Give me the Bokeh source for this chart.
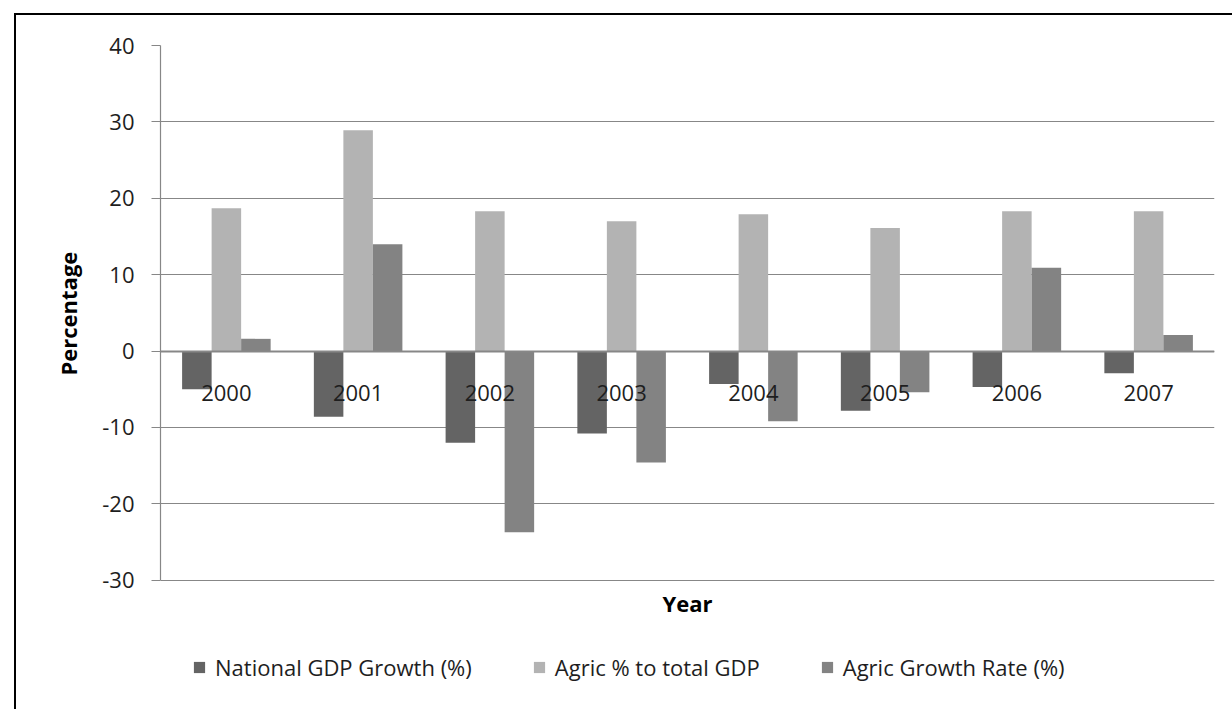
from bokeh.plotting import figure
from bokeh.models import (ColumnDataSource, FactorRange, Range1d, Legend, LegendItem,
                          Label, Title, FixedTicker, PrintfTickFormatter)
from bokeh.transform import dodge
from bokeh.embed import file_html
from bokeh.resources import INLINE

# Nigerian economy, 2000-2007 (percent)
years = ["2000", "2001", "2002", "2003", "2004", "2005", "2006", "2007"]
national_gdp_growth = [-5.0, -8.6, -12.0, -10.8, -4.3, -7.8, -4.7, -2.9]
agric_share_of_gdp = [18.7, 28.9, 18.3, 17.0, 17.9, 16.1, 18.3, 18.3]
agric_growth_rate = [1.6, 14.0, -23.7, -14.6, -9.2, -5.4, 10.9, 2.1]

series_names = ["National GDP Growth (%)", "Agric % to total GDP", "Agric Growth Rate (%)"]
y_ticks = [-30, -20, -10, 0, 10, 20, 30, 40]

FONT = "Open Sans"
GRID = "#878787"

src = ColumnDataSource(dict(year=years, gdp=national_gdp_growth,
                            share=agric_share_of_gdp, agr=agric_growth_rate))

# the frame runs on below the -30 gridline so that the axis title and the
# legend row can sit inside it; the value axis itself is bounded to -30..40
p = figure(x_range=FactorRange(*years), y_range=Range1d(-46, 40),
           frame_width=1054, frame_height=657,
           min_border_left=144, min_border_right=18, min_border_top=30, min_border_bottom=7,
           output_backend="svg", toolbar_location=None,
           background_fill_color="white", border_fill_color="white")
p.outline_line_color = None
p.styles = {"margin-left": "14px", "margin-top": "13px",
            "border-left": "2px solid #000", "border-top": "2px solid #000"}

bw = 0.224
r1 = p.vbar(x=dodge("year", -bw, range=p.x_range), top="gdp", width=bw, source=src,
            fill_color="#646464", line_color=None)
r2 = p.vbar(x=dodge("year", 0.0, range=p.x_range), top="share", width=bw, source=src,
            fill_color="#b3b3b3", line_color=None)
r3 = p.vbar(x=dodge("year", bw, range=p.x_range), top="agr", width=bw, source=src,
            fill_color="#838383", line_color=None)

# horizontal gridlines only
p.xgrid.grid_line_color = None
p.ygrid.grid_line_color = GRID
p.ygrid.grid_line_width = 1.2

# value axis
p.yaxis.bounds = (-30, 40)
p.yaxis.ticker = FixedTicker(ticks=y_ticks)
p.yaxis.formatter = PrintfTickFormatter(format="%d")
p.yaxis.axis_line_color = GRID
p.yaxis.axis_line_width = 1.2
p.yaxis.major_tick_line_color = GRID
p.yaxis.major_tick_line_width = 1.2
p.yaxis.major_tick_out = 9
p.yaxis.major_tick_in = 0
p.yaxis.minor_tick_line_color = None
p.yaxis.major_label_standoff = 17
p.yaxis.major_label_text_font = FONT
p.yaxis.major_label_text_font_size = "22px"
p.yaxis.major_label_text_color = "#1e1e1e"

# value-axis title, lifted so that it is centred on the bounded -30..40 span
p.add_layout(Title(text="Percentage", align="left", offset=327, standoff=34,
                   text_font=FONT, text_font_size="22px", text_font_style="bold",
                   text_color="#000"), "left")

# category axis sits on the zero line
p.xaxis.fixed_location = 0
p.xaxis.axis_line_color = GRID
p.xaxis.axis_line_width = 2
p.xaxis.major_tick_line_color = None
p.xaxis.minor_tick_line_color = None
p.xaxis.major_label_standoff = 28
p.xaxis.major_label_text_font = FONT
p.xaxis.major_label_text_font_size = "22px"
p.xaxis.major_label_text_color = "#1e1e1e"

# category-axis title under the -30 gridline
p.add_layout(Label(x=len(years) / 2, y=-33.0, text="Year", text_align="center",
                   text_baseline="middle", text_font=FONT, text_font_size="22px",
                   text_font_style="bold", text_color="#000"))

legend = Legend(items=[LegendItem(label=series_names[0], renderers=[r1]),
                       LegendItem(label=series_names[1], renderers=[r2]),
                       LegendItem(label=series_names[2], renderers=[r3])],
                orientation="horizontal", location=(32, 20),
                glyph_width=14, glyph_height=14, label_standoff=9, spacing=60,
                padding=0, margin=0, border_line_color=None, background_fill_alpha=0,
                label_text_font=FONT, label_text_font_size="22px", label_text_color="#1e1e1e")
p.add_layout(legend, "center")

open("out.html", "w").write(file_html(p, INLINE))
